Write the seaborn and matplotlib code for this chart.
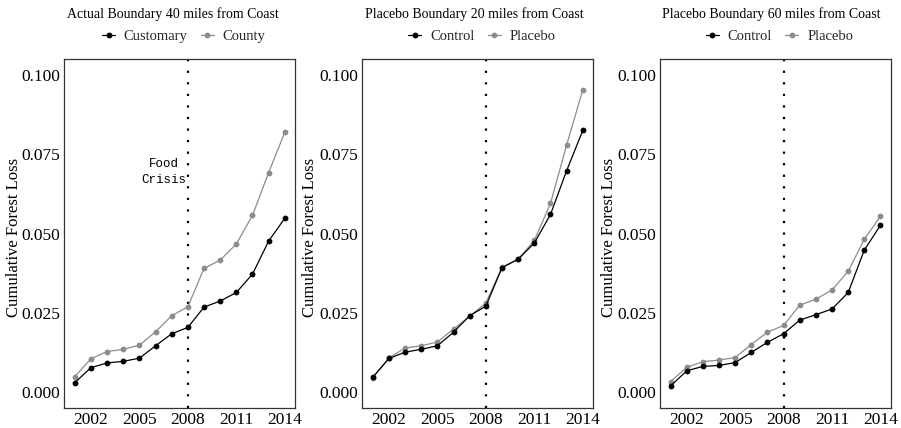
import matplotlib
matplotlib.use("Agg")
import matplotlib.pyplot as plt
from matplotlib.lines import Line2D
import numpy as np
import pandas as pd
import seaborn as sns

sns.set_theme(style="white")
plt.rcParams["font.family"] = ["Liberation Serif", "DejaVu Serif"]

years = list(range(2001, 2015))

# Actual boundary, 40 miles from the coast
customary_40 = [0.0031, 0.0078, 0.0093, 0.0098, 0.0108, 0.0147, 0.0185,
                0.0205, 0.0269, 0.0288, 0.0315, 0.0373, 0.0477, 0.0549]
county_40 = [0.0050, 0.0106, 0.0129, 0.0136, 0.0149, 0.0191, 0.0242,
             0.0270, 0.0391, 0.0417, 0.0468, 0.0558, 0.0693, 0.0820]

# Placebo boundary, 20 miles from the coast
control_20 = [0.0048, 0.0107, 0.0127, 0.0136, 0.0147, 0.0190, 0.0242,
              0.0272, 0.0393, 0.0420, 0.0471, 0.0561, 0.0699, 0.0826]
placebo_20 = [0.0047, 0.0109, 0.0140, 0.0147, 0.0159, 0.0200, 0.0240,
              0.0282, 0.0395, 0.0420, 0.0479, 0.0596, 0.0780, 0.0954]

# Placebo boundary, 60 miles from the coast
control_60 = [0.0020, 0.0068, 0.0082, 0.0085, 0.0094, 0.0126, 0.0158,
              0.0185, 0.0228, 0.0245, 0.0263, 0.0315, 0.0449, 0.0527]
placebo_60 = [0.0034, 0.0079, 0.0097, 0.0102, 0.0110, 0.0151, 0.0190,
              0.0211, 0.0275, 0.0294, 0.0323, 0.0382, 0.0483, 0.0555]

titles = ["Actual Boundary 40 miles from Coast",
          "Placebo Boundary 20 miles from Coast",
          "Placebo Boundary 60 miles from Coast"]
group_labels = [("Customary", "County"), ("Control", "Placebo"), ("Control", "Placebo")]
series = [(customary_40, county_40), (control_20, placebo_20), (control_60, placebo_60)]

xticks = [2002, 2005, 2008, 2011, 2014]
yticks = [0.0, 0.025, 0.05, 0.075, 0.1]
crisis_year = 2008

DARK = "#000000"
LIGHT = "#8c8c8c"
FRAME = "#333333"

W, H = 901, 428
fig = plt.figure(figsize=(W / 100, H / 100), dpi=100)

lefts = [64.3, 362.3, 660.0]
ylabel_gap = [42.0, 44.0, 43.0]
ax_w, ax_top, ax_bot = 231.0, 59.3, 408.3
title_x = [172.5, 474.0, 771.5]

for i in range(3):
    left = lefts[i]
    ax = fig.add_axes([left / W, (H - ax_bot) / H, ax_w / W, (ax_bot - ax_top) / H])
    g1, g2 = group_labels[i]
    a, b = series[i]
    df = pd.DataFrame({
        "year": years * 2,
        "loss": a + b,
        "group": [g1] * len(years) + [g2] * len(years),
    })
    sns.lineplot(data=df, x="year", y="loss", hue="group", hue_order=[g1, g2],
                 palette={g1: DARK, g2: LIGHT}, marker="o", markersize=4.2,
                 markeredgewidth=0, linewidth=0.9, ax=ax, legend=False, zorder=3)
    # keep the darker series above the lighter one
    lines = ax.get_lines()
    if len(lines) >= 2:
        lines[0].set_zorder(4)
        lines[1].set_zorder(3)

    ax.axvline(crisis_year, color="black", linestyle=(0, (1, 4.2)),
               linewidth=1.6, zorder=2)

    ax.set_xlim(2000.35, 2014.65)
    ax.set_ylim(-0.005, 0.105)
    ax.set_xticks(xticks)
    ax.set_xticklabels([str(t) for t in xticks])
    ax.set_yticks(yticks)
    ax.set_yticklabels([f"{t:.3f}" for t in yticks])
    ax.set_xlabel("")
    ax.set_ylabel("Cumulative Forest Loss", fontsize=12, color="black")
    ax.yaxis.set_label_coords(-ylabel_gap[i] / ax_w, 0.49)
    ax.tick_params(axis="both", which="both", direction="out", length=2.2,
                   width=0.8, color=FRAME, labelsize=12.5, labelcolor="black")
    ax.tick_params(axis="y", pad=0.6)
    ax.tick_params(axis="x", pad=0.6)
    for s in ax.spines.values():
        s.set_visible(True)
        s.set_color(FRAME)
        s.set_linewidth(0.9)
    ax.grid(False)
    ax.set_facecolor("white")

    if i == 0:
        ax.text(2006.5, 0.0695, "Food\nCrisis", ha="center", va="center",
                family=["Liberation Mono", "DejaVu Sans Mono"], fontsize=9,
                linespacing=1.5, color="black")

    fig.text(title_x[i] / W, 1 - 14 / H, titles[i], ha="center", va="center",
             fontsize=10, color="black")

    handles = [Line2D([0], [0], color=DARK, marker="o", markersize=4.2,
                      markeredgewidth=0, linewidth=0.9),
               Line2D([0], [0], color=LIGHT, marker="o", markersize=4.2,
                      markeredgewidth=0, linewidth=0.9)]
    ax.legend(handles, [g1, g2], loc="center", ncol=2, frameon=False,
              bbox_to_anchor=((left + ax_w / 2 + 4) / W, 1 - 36.7 / H),
              bbox_transform=fig.transFigure, fontsize=10.5,
              handlelength=0.9, handletextpad=0.6, columnspacing=0.9,
              borderaxespad=0, borderpad=0)

fig.savefig("out.png", dpi=100, facecolor="white")
